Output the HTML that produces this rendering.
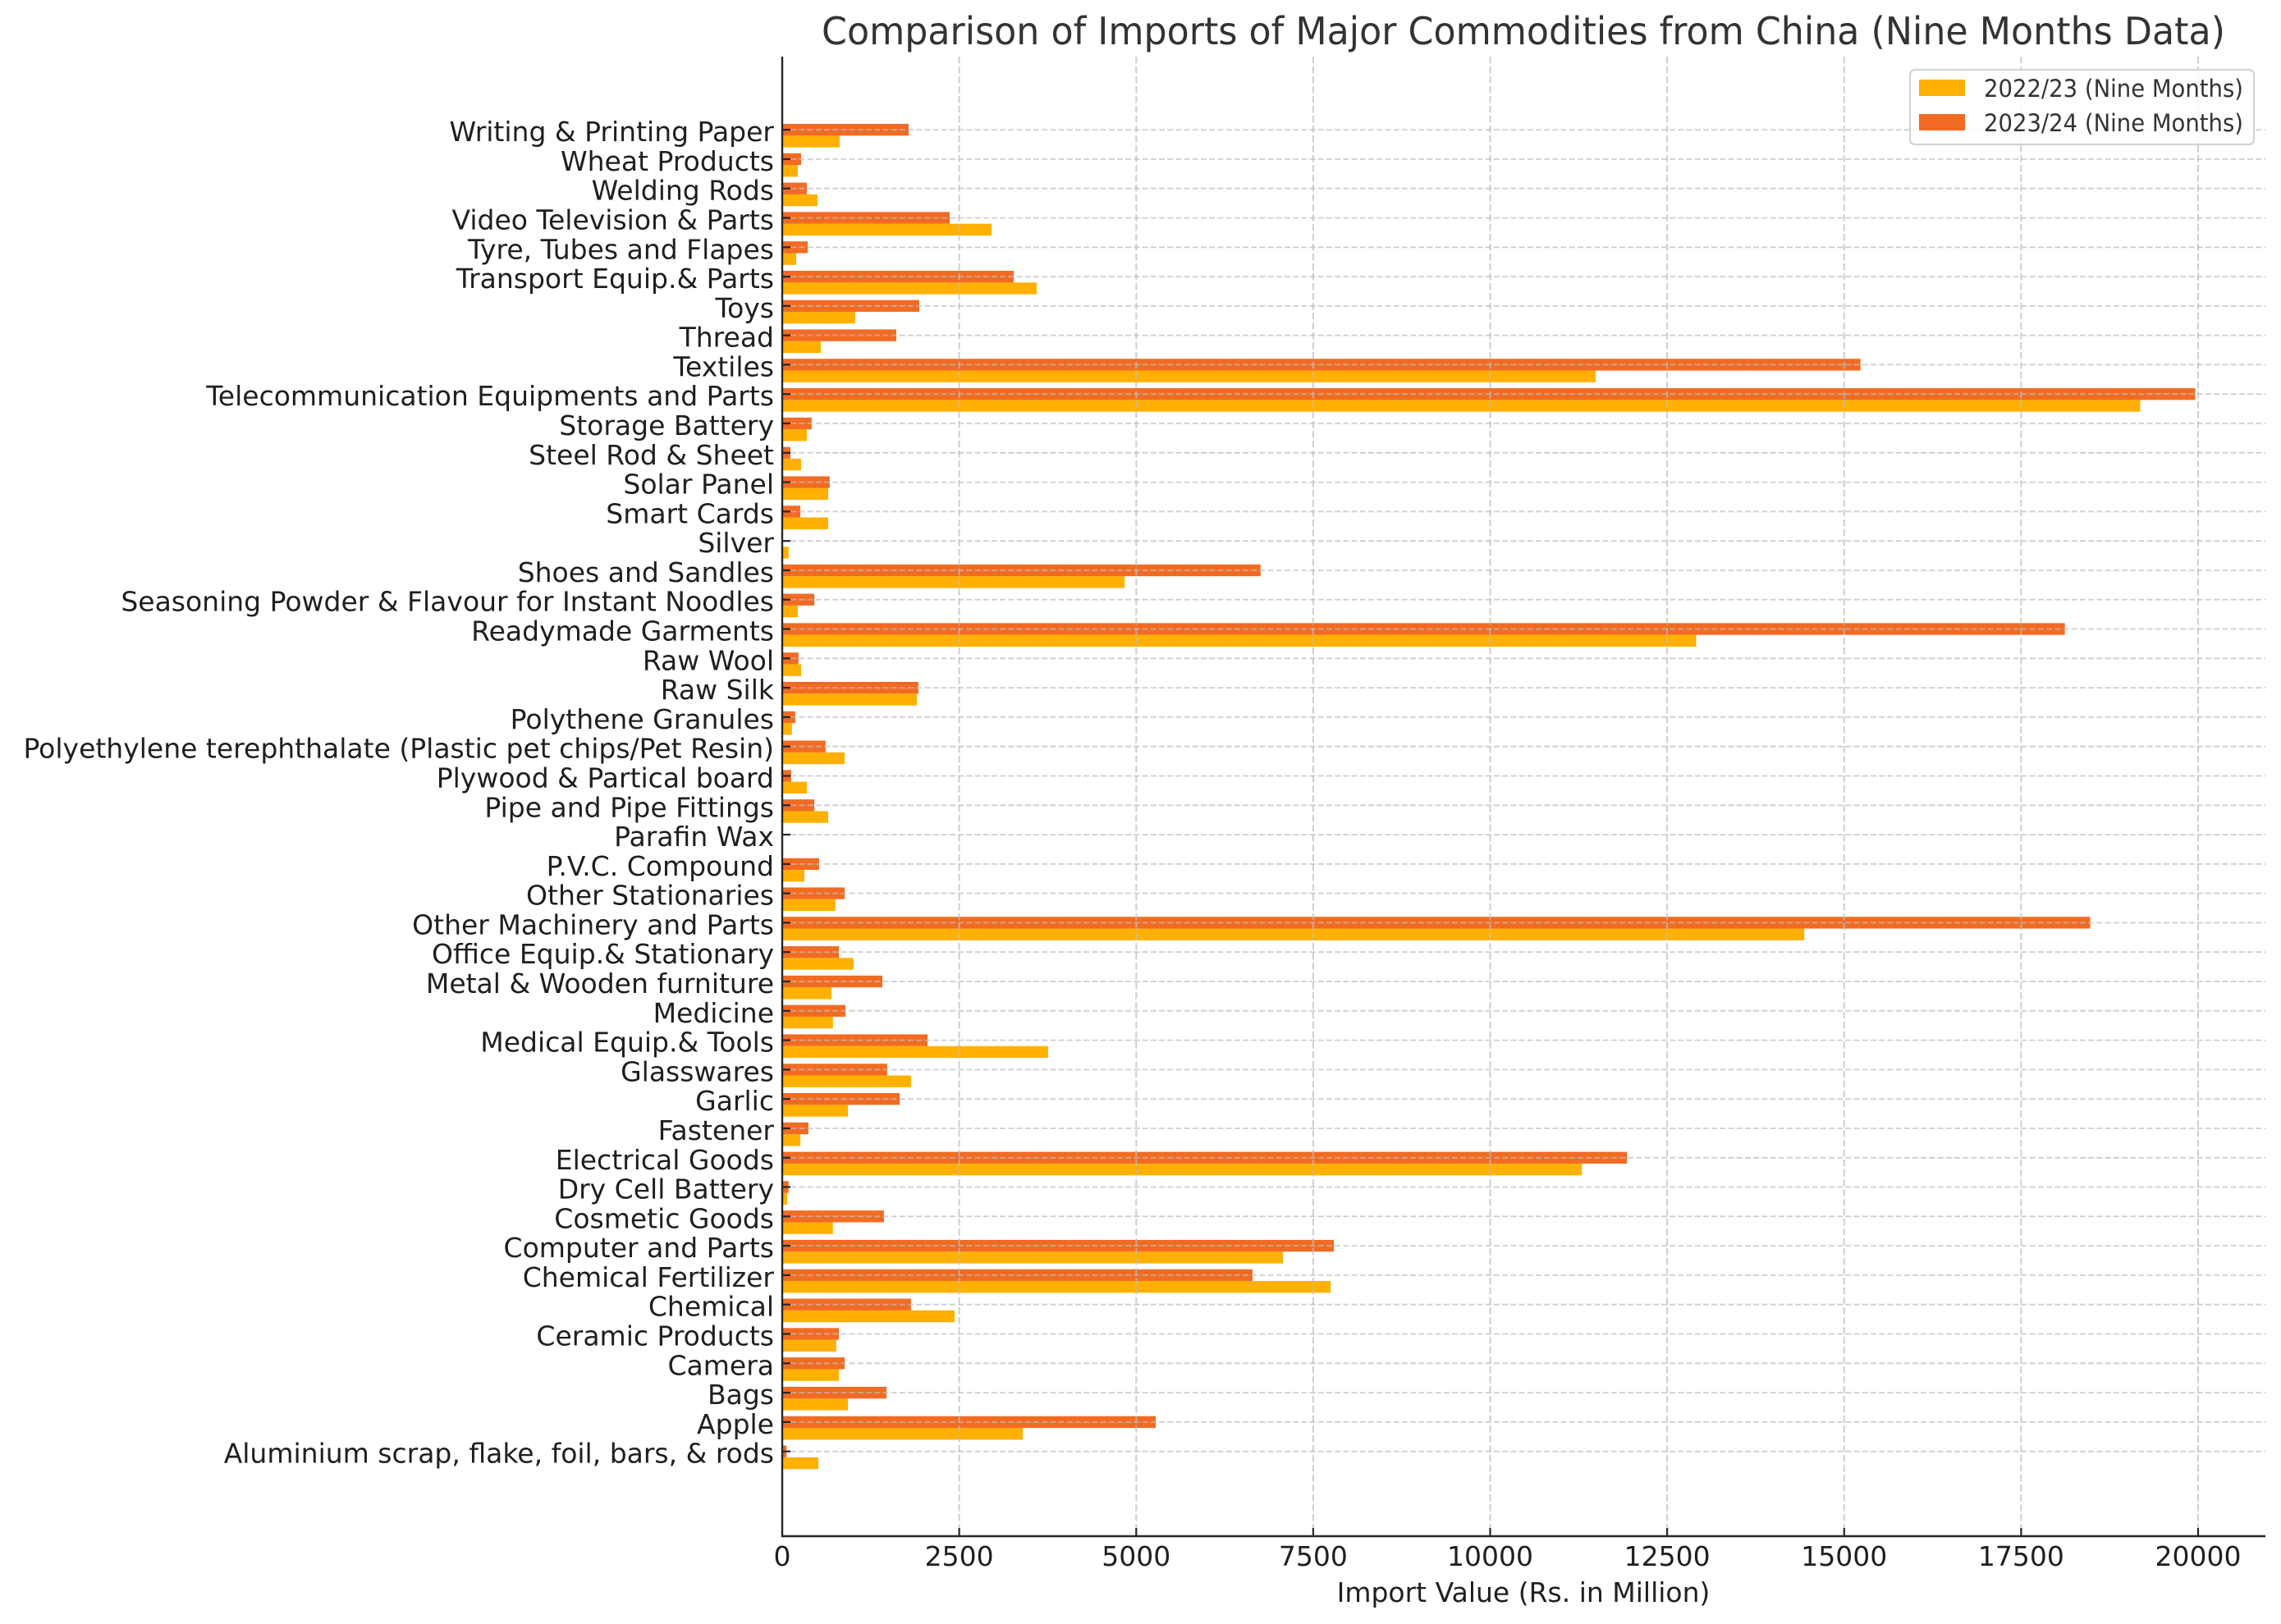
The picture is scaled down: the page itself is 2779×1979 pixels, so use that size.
<!DOCTYPE html>
<html>
<head>
<meta charset="utf-8">
<style>
html,body{margin:0;padding:0;background:#fff;}
svg{display:block;}
text{font-family:"DejaVu Sans","Liberation Sans",sans-serif;}
</style>
</head>
<body>
<svg width="2779" height="1979" viewBox="0 0 2779 1979" xmlns="http://www.w3.org/2000/svg">
<rect x="0" y="0" width="2779" height="1979" fill="#ffffff"/>

<!-- Title -->
<text x="1856" y="54" text-anchor="middle" font-size="46" fill="#333333" textLength="1710" lengthAdjust="spacingAndGlyphs">Comparison of Imports of Major Commodities from China (Nine Months Data)</text>

<!-- Bars -->
<g transform="translate(953,0)">
<!-- yellow = 2022/23 (below tick), orange = 2023/24 (centered at tick) -->
<g fill="#ffb000">
<rect x="0" y="165.26" width="70.0" height="14.32"/>
<rect x="0" y="201.06" width="19.0" height="14.32"/>
<rect x="0" y="236.86" width="43.0" height="14.32"/>
<rect x="0" y="272.66" width="255.0" height="14.32"/>
<rect x="0" y="308.46" width="17.0" height="14.32"/>
<rect x="0" y="344.26" width="310.0" height="14.32"/>
<rect x="0" y="379.96" width="89.0" height="14.32"/>
<rect x="0" y="415.76" width="47.1" height="14.32"/>
<rect x="0" y="451.56" width="990.9" height="14.32"/>
<rect x="0" y="487.36" width="1654.5" height="14.32"/>
<rect x="0" y="523.16" width="30.1" height="14.32"/>
<rect x="0" y="558.96" width="23.0" height="14.32"/>
<rect x="0" y="594.76" width="56.0" height="14.32"/>
<rect x="0" y="630.56" width="56.0" height="14.32"/>
<rect x="0" y="666.36" width="7.8" height="14.32"/>
<rect x="0" y="702.16" width="417.2" height="14.32"/>
<rect x="0" y="737.86" width="19.0" height="14.32"/>
<rect x="0" y="773.66" width="1113.5" height="14.32"/>
<rect x="0" y="809.46" width="23.0" height="14.32"/>
<rect x="0" y="845.26" width="164.0" height="14.32"/>
<rect x="0" y="881.06" width="11.8" height="14.32"/>
<rect x="0" y="916.86" width="76.1" height="14.32"/>
<rect x="0" y="952.66" width="30.1" height="14.32"/>
<rect x="0" y="988.46" width="56.0" height="14.32"/>
<rect x="0" y="1060.06" width="27.0" height="14.32"/>
<rect x="0" y="1095.76" width="64.9" height="14.32"/>
<rect x="0" y="1131.56" width="1245.2" height="14.32"/>
<rect x="0" y="1167.36" width="86.9" height="14.32"/>
<rect x="0" y="1203.16" width="60.0" height="14.32"/>
<rect x="0" y="1238.96" width="61.8" height="14.32"/>
<rect x="0" y="1274.76" width="323.9" height="14.32"/>
<rect x="0" y="1310.56" width="156.9" height="14.32"/>
<rect x="0" y="1346.36" width="80.1" height="14.32"/>
<rect x="0" y="1382.16" width="22.1" height="14.32"/>
<rect x="0" y="1417.96" width="974.3" height="14.32"/>
<rect x="0" y="1453.66" width="6.0" height="14.32"/>
<rect x="0" y="1489.46" width="61.8" height="14.32"/>
<rect x="0" y="1525.26" width="610.0" height="14.32"/>
<rect x="0" y="1561.06" width="668.1" height="14.32"/>
<rect x="0" y="1596.86" width="210.0" height="14.32"/>
<rect x="0" y="1632.66" width="65.8" height="14.32"/>
<rect x="0" y="1668.46" width="69.0" height="14.32"/>
<rect x="0" y="1704.26" width="80.1" height="14.32"/>
<rect x="0" y="1740.06" width="293.1" height="14.32"/>
<rect x="0" y="1775.86" width="44.0" height="14.32"/>
</g>
<g fill="#f26b22">
<rect x="0" y="150.94" width="154.0" height="14.32"/>
<rect x="0" y="186.74" width="23.0" height="14.32"/>
<rect x="0" y="222.54" width="30.0" height="14.32"/>
<rect x="0" y="258.34" width="204.0" height="14.32"/>
<rect x="0" y="294.14" width="31.0" height="14.32"/>
<rect x="0" y="329.94" width="282.0" height="14.32"/>
<rect x="0" y="365.64" width="167.0" height="14.32"/>
<rect x="0" y="401.44" width="139.0" height="14.32"/>
<rect x="0" y="437.24" width="1313.7" height="14.32"/>
<rect x="0" y="473.04" width="1721.5" height="14.32"/>
<rect x="0" y="508.84" width="35.9" height="14.32"/>
<rect x="0" y="544.64" width="10.0" height="14.32"/>
<rect x="0" y="580.44" width="57.8" height="14.32"/>
<rect x="0" y="616.24" width="22.1" height="14.32"/>
<rect x="0" y="687.84" width="582.8" height="14.32"/>
<rect x="0" y="723.54" width="39.1" height="14.32"/>
<rect x="0" y="759.34" width="1562.7" height="14.32"/>
<rect x="0" y="795.14" width="19.8" height="14.32"/>
<rect x="0" y="830.94" width="165.9" height="14.32"/>
<rect x="0" y="866.74" width="15.9" height="14.32"/>
<rect x="0" y="902.54" width="52.9" height="14.32"/>
<rect x="0" y="938.34" width="11.0" height="14.32"/>
<rect x="0" y="974.14" width="39.1" height="14.32"/>
<rect x="0" y="1045.74" width="44.9" height="14.32"/>
<rect x="0" y="1081.44" width="76.1" height="14.32"/>
<rect x="0" y="1117.24" width="1593.6" height="14.32"/>
<rect x="0" y="1153.04" width="69.0" height="14.32"/>
<rect x="0" y="1188.84" width="122.0" height="14.32"/>
<rect x="0" y="1224.64" width="77.0" height="14.32"/>
<rect x="0" y="1260.44" width="177.0" height="14.32"/>
<rect x="0" y="1296.24" width="127.9" height="14.32"/>
<rect x="0" y="1332.04" width="143.1" height="14.32"/>
<rect x="0" y="1367.84" width="31.9" height="14.32"/>
<rect x="0" y="1403.64" width="1029.2" height="14.32"/>
<rect x="0" y="1439.34" width="7.8" height="14.32"/>
<rect x="0" y="1475.14" width="123.9" height="14.32"/>
<rect x="0" y="1510.94" width="672.1" height="14.32"/>
<rect x="0" y="1546.74" width="573.0" height="14.32"/>
<rect x="0" y="1582.54" width="156.9" height="14.32"/>
<rect x="0" y="1618.34" width="69.0" height="14.32"/>
<rect x="0" y="1654.14" width="76.1" height="14.32"/>
<rect x="0" y="1689.94" width="127.0" height="14.32"/>
<rect x="0" y="1725.74" width="455.1" height="14.32"/>
<rect x="0" y="1761.54" width="5.2" height="14.32"/>
</g>
</g>

<!-- Grid (drawn above bars) -->
<g stroke="#bdbdbd" stroke-opacity="0.75" stroke-width="2" stroke-dasharray="8.5 3.5" fill="none">
<line x1="1168.6" y1="69" x2="1168.6" y2="1872"/>
<line x1="1384.3" y1="69" x2="1384.3" y2="1872"/>
<line x1="1599.9" y1="69" x2="1599.9" y2="1872"/>
<line x1="1815.5" y1="69" x2="1815.5" y2="1872"/>
<line x1="2031.1" y1="69" x2="2031.1" y2="1872"/>
<line x1="2246.8" y1="69" x2="2246.8" y2="1872"/>
<line x1="2462.4" y1="69" x2="2462.4" y2="1872"/>
<line x1="2678.0" y1="69" x2="2678.0" y2="1872"/>
</g>
<g stroke="#bdbdbd" stroke-opacity="0.75" stroke-width="1.8" stroke-dasharray="7 3.2" fill="none">
<line x1="953" y1="158.1" x2="2760" y2="158.1"/>
<line x1="953" y1="193.9" x2="2760" y2="193.9"/>
<line x1="953" y1="229.7" x2="2760" y2="229.7"/>
<line x1="953" y1="265.5" x2="2760" y2="265.5"/>
<line x1="953" y1="301.3" x2="2760" y2="301.3"/>
<line x1="953" y1="337.1" x2="2760" y2="337.1"/>
<line x1="953" y1="372.8" x2="2760" y2="372.8"/>
<line x1="953" y1="408.6" x2="2760" y2="408.6"/>
<line x1="953" y1="444.4" x2="2760" y2="444.4"/>
<line x1="953" y1="480.2" x2="2760" y2="480.2"/>
<line x1="953" y1="516.0" x2="2760" y2="516.0"/>
<line x1="953" y1="551.8" x2="2760" y2="551.8"/>
<line x1="953" y1="587.6" x2="2760" y2="587.6"/>
<line x1="953" y1="623.4" x2="2760" y2="623.4"/>
<line x1="953" y1="659.2" x2="2760" y2="659.2"/>
<line x1="953" y1="695.0" x2="2760" y2="695.0"/>
<line x1="953" y1="730.7" x2="2760" y2="730.7"/>
<line x1="953" y1="766.5" x2="2760" y2="766.5"/>
<line x1="953" y1="802.3" x2="2760" y2="802.3"/>
<line x1="953" y1="838.1" x2="2760" y2="838.1"/>
<line x1="953" y1="873.9" x2="2760" y2="873.9"/>
<line x1="953" y1="909.7" x2="2760" y2="909.7"/>
<line x1="953" y1="945.5" x2="2760" y2="945.5"/>
<line x1="953" y1="981.3" x2="2760" y2="981.3"/>
<line x1="953" y1="1017.1" x2="2760" y2="1017.1"/>
<line x1="953" y1="1052.9" x2="2760" y2="1052.9"/>
<line x1="953" y1="1088.6" x2="2760" y2="1088.6"/>
<line x1="953" y1="1124.4" x2="2760" y2="1124.4"/>
<line x1="953" y1="1160.2" x2="2760" y2="1160.2"/>
<line x1="953" y1="1196.0" x2="2760" y2="1196.0"/>
<line x1="953" y1="1231.8" x2="2760" y2="1231.8"/>
<line x1="953" y1="1267.6" x2="2760" y2="1267.6"/>
<line x1="953" y1="1303.4" x2="2760" y2="1303.4"/>
<line x1="953" y1="1339.2" x2="2760" y2="1339.2"/>
<line x1="953" y1="1375.0" x2="2760" y2="1375.0"/>
<line x1="953" y1="1410.8" x2="2760" y2="1410.8"/>
<line x1="953" y1="1446.5" x2="2760" y2="1446.5"/>
<line x1="953" y1="1482.3" x2="2760" y2="1482.3"/>
<line x1="953" y1="1518.1" x2="2760" y2="1518.1"/>
<line x1="953" y1="1553.9" x2="2760" y2="1553.9"/>
<line x1="953" y1="1589.7" x2="2760" y2="1589.7"/>
<line x1="953" y1="1625.5" x2="2760" y2="1625.5"/>
<line x1="953" y1="1661.3" x2="2760" y2="1661.3"/>
<line x1="953" y1="1697.1" x2="2760" y2="1697.1"/>
<line x1="953" y1="1732.9" x2="2760" y2="1732.9"/>
<line x1="953" y1="1768.7" x2="2760" y2="1768.7"/>
</g>

<!-- Y tick marks (inward) -->
<g stroke="#262626" stroke-width="2.2">
<line x1="953" y1="158.1" x2="963" y2="158.1"/>
<line x1="953" y1="193.9" x2="963" y2="193.9"/>
<line x1="953" y1="229.7" x2="963" y2="229.7"/>
<line x1="953" y1="265.5" x2="963" y2="265.5"/>
<line x1="953" y1="301.3" x2="963" y2="301.3"/>
<line x1="953" y1="337.1" x2="963" y2="337.1"/>
<line x1="953" y1="372.8" x2="963" y2="372.8"/>
<line x1="953" y1="408.6" x2="963" y2="408.6"/>
<line x1="953" y1="444.4" x2="963" y2="444.4"/>
<line x1="953" y1="480.2" x2="963" y2="480.2"/>
<line x1="953" y1="516.0" x2="963" y2="516.0"/>
<line x1="953" y1="551.8" x2="963" y2="551.8"/>
<line x1="953" y1="587.6" x2="963" y2="587.6"/>
<line x1="953" y1="623.4" x2="963" y2="623.4"/>
<line x1="953" y1="659.2" x2="963" y2="659.2"/>
<line x1="953" y1="695.0" x2="963" y2="695.0"/>
<line x1="953" y1="730.7" x2="963" y2="730.7"/>
<line x1="953" y1="766.5" x2="963" y2="766.5"/>
<line x1="953" y1="802.3" x2="963" y2="802.3"/>
<line x1="953" y1="838.1" x2="963" y2="838.1"/>
<line x1="953" y1="873.9" x2="963" y2="873.9"/>
<line x1="953" y1="909.7" x2="963" y2="909.7"/>
<line x1="953" y1="945.5" x2="963" y2="945.5"/>
<line x1="953" y1="981.3" x2="963" y2="981.3"/>
<line x1="953" y1="1017.1" x2="963" y2="1017.1"/>
<line x1="953" y1="1052.9" x2="963" y2="1052.9"/>
<line x1="953" y1="1088.6" x2="963" y2="1088.6"/>
<line x1="953" y1="1124.4" x2="963" y2="1124.4"/>
<line x1="953" y1="1160.2" x2="963" y2="1160.2"/>
<line x1="953" y1="1196.0" x2="963" y2="1196.0"/>
<line x1="953" y1="1231.8" x2="963" y2="1231.8"/>
<line x1="953" y1="1267.6" x2="963" y2="1267.6"/>
<line x1="953" y1="1303.4" x2="963" y2="1303.4"/>
<line x1="953" y1="1339.2" x2="963" y2="1339.2"/>
<line x1="953" y1="1375.0" x2="963" y2="1375.0"/>
<line x1="953" y1="1410.8" x2="963" y2="1410.8"/>
<line x1="953" y1="1446.5" x2="963" y2="1446.5"/>
<line x1="953" y1="1482.3" x2="963" y2="1482.3"/>
<line x1="953" y1="1518.1" x2="963" y2="1518.1"/>
<line x1="953" y1="1553.9" x2="963" y2="1553.9"/>
<line x1="953" y1="1589.7" x2="963" y2="1589.7"/>
<line x1="953" y1="1625.5" x2="963" y2="1625.5"/>
<line x1="953" y1="1661.3" x2="963" y2="1661.3"/>
<line x1="953" y1="1697.1" x2="963" y2="1697.1"/>
<line x1="953" y1="1732.9" x2="963" y2="1732.9"/>
<line x1="953" y1="1768.7" x2="963" y2="1768.7"/>
</g>

<!-- X tick marks (inward) -->
<g stroke="#262626" stroke-width="2.2">
<line x1="1168.6" y1="1872" x2="1168.6" y2="1862"/>
<line x1="1384.3" y1="1872" x2="1384.3" y2="1862"/>
<line x1="1599.9" y1="1872" x2="1599.9" y2="1862"/>
<line x1="1815.5" y1="1872" x2="1815.5" y2="1862"/>
<line x1="2031.1" y1="1872" x2="2031.1" y2="1862"/>
<line x1="2246.8" y1="1872" x2="2246.8" y2="1862"/>
<line x1="2462.4" y1="1872" x2="2462.4" y2="1862"/>
<line x1="2678.0" y1="1872" x2="2678.0" y2="1862"/>
</g>

<!-- Spines -->
<line x1="953" y1="69" x2="953" y2="1873" stroke="#262626" stroke-width="2.4"/>
<line x1="952" y1="1872" x2="2760" y2="1872" stroke="#262626" stroke-width="2.4"/>

<!-- Y tick labels -->
<g font-size="33" fill="#1f1f1f" text-anchor="end">
<text x="943" y="172.1">Writing &amp; Printing Paper</text>
<text x="943" y="207.9">Wheat Products</text>
<text x="943" y="243.7">Welding Rods</text>
<text x="943" y="279.5">Video Television &amp; Parts</text>
<text x="943" y="315.3">Tyre, Tubes and Flapes</text>
<text x="943" y="351.1">Transport Equip.&amp; Parts</text>
<text x="943" y="386.8">Toys</text>
<text x="943" y="422.6">Thread</text>
<text x="943" y="458.4">Textiles</text>
<text x="943" y="494.2">Telecommunication Equipments and Parts</text>
<text x="943" y="530.0">Storage Battery</text>
<text x="943" y="565.8">Steel Rod &amp; Sheet</text>
<text x="943" y="601.6">Solar Panel</text>
<text x="943" y="637.4">Smart Cards</text>
<text x="943" y="673.2">Silver</text>
<text x="943" y="709.0">Shoes and Sandles</text>
<text x="943" y="744.7">Seasoning Powder &amp; Flavour for Instant Noodles</text>
<text x="943" y="780.5">Readymade Garments</text>
<text x="943" y="816.3">Raw Wool</text>
<text x="943" y="852.1">Raw Silk</text>
<text x="943" y="887.9">Polythene Granules</text>
<text x="943" y="923.7">Polyethylene terephthalate (Plastic pet chips/Pet Resin)</text>
<text x="943" y="959.5">Plywood &amp; Partical board</text>
<text x="943" y="995.3">Pipe and Pipe Fittings</text>
<text x="943" y="1031.1">Parafin Wax</text>
<text x="943" y="1066.9">P.V.C. Compound</text>
<text x="943" y="1102.6">Other Stationaries</text>
<text x="943" y="1138.4">Other Machinery and Parts</text>
<text x="943" y="1174.2">Office Equip.&amp; Stationary</text>
<text x="943" y="1210.0">Metal &amp; Wooden furniture</text>
<text x="943" y="1245.8">Medicine</text>
<text x="943" y="1281.6">Medical Equip.&amp; Tools</text>
<text x="943" y="1317.4">Glasswares</text>
<text x="943" y="1353.2">Garlic</text>
<text x="943" y="1389.0">Fastener</text>
<text x="943" y="1424.8">Electrical Goods</text>
<text x="943" y="1460.5">Dry Cell Battery</text>
<text x="943" y="1496.3">Cosmetic Goods</text>
<text x="943" y="1532.1">Computer and Parts</text>
<text x="943" y="1567.9">Chemical Fertilizer</text>
<text x="943" y="1603.7">Chemical</text>
<text x="943" y="1639.5">Ceramic Products</text>
<text x="943" y="1675.3">Camera</text>
<text x="943" y="1711.1">Bags</text>
<text x="943" y="1746.9">Apple</text>
<text x="943" y="1782.7">Aluminium scrap, flake, foil, bars, &amp; rods</text>
</g>

<!-- X tick labels -->
<g font-size="33" fill="#1f1f1f" text-anchor="middle">
<text x="953" y="1908">0</text>
<text x="1168.6" y="1908">2500</text>
<text x="1384.3" y="1908">5000</text>
<text x="1599.9" y="1908">7500</text>
<text x="1815.5" y="1908">10000</text>
<text x="2031.1" y="1908">12500</text>
<text x="2246.8" y="1908">15000</text>
<text x="2462.4" y="1908">17500</text>
<text x="2678.0" y="1908">20000</text>
</g>

<!-- X axis label -->
<text x="1856" y="1952" text-anchor="middle" font-size="33" fill="#1f1f1f">Import Value (Rs. in Million)</text>

<!-- Legend -->
<rect x="2327" y="85" width="419" height="91" rx="6" ry="6" fill="#ffffff" fill-opacity="0.85" stroke="#d4d4d4" stroke-width="2.2"/>
<rect x="2338" y="97" width="56" height="20" fill="#ffb000"/>
<rect x="2338" y="139" width="56" height="20" fill="#f26b22"/>
<text x="2417" y="118" font-size="29" fill="#333333" textLength="316" lengthAdjust="spacingAndGlyphs">2022/23 (Nine Months)</text>
<text x="2417" y="160" font-size="29" fill="#333333" textLength="316" lengthAdjust="spacingAndGlyphs">2023/24 (Nine Months)</text>
</svg>
</body>
</html>
